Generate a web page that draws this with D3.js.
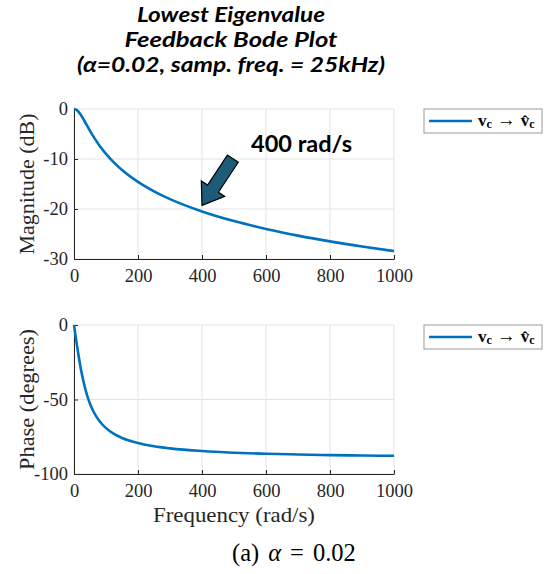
<!DOCTYPE html>
<html>
<head>
<meta charset="utf-8">
<script src="https://cdn.jsdelivr.net/npm/d3@7"></script>
<style>
  html, body { margin: 0; padding: 0; background: #fff; }
  svg { display: block; }
</style>
</head>
<body>
<svg id="chart" width="550" height="574"></svg>
<script>
// Frequency response of the lowest-eigenvalue feedback loop (rad/s)
const freq      = [0, 5, 10, 15, 20, 25, 30, 40, 50, 60, 70, 80, 100, 125, 150, 200, 250, 300, 400, 500, 600, 700, 800, 900, 1000];
const magnitude = [0, -0.07, -0.29, -0.63, -1.06, -1.55, -2.10, -3.24, -4.36, -5.43, -6.43, -7.35, -8.99, -10.73, -12.20, -14.58, -16.46, -18.02, -20.48, -22.41, -23.98, -25.32, -26.48, -27.50, -28.41];
const phase     = [0, -7.5, -14.7, -21.5, -27.8, -33.3, -38.3, -46.5, -52.8, -57.7, -61.5, -64.6, -69.2, -73.1, -75.8, -79.2, -81.4, -82.8, -84.6, -85.7, -86.4, -86.9, -87.3, -87.6, -87.8];

const xTicks     = [0, 200, 400, 600, 800, 1000];
const magTicks   = [0, -10, -20, -30];
const phaseTicks = [0, -50, -100];

const titleLines = ["Lowest Eigenvalue", "Feedback Bode Plot", "(\u03B1=0.02, samp. freq. = 25kHz)"];
const annotation = { freq: 400, text: "400 rad/s" };

const svg = d3.select("#chart");
const serif = "'Liberation Serif', 'Times New Roman', serif";
const sans = "Lato, 'Open Sans', sans-serif";
const lineColor = "#0072BD";
const axisColor = "#262626";
const gridColor = "#e3e3e3";

const plotLeft = 74, plotRight = 394;
const x = d3.scaleLinear().domain([0, 1000]).range([plotLeft, plotRight]);

// Title
const titleG = svg.append("g");
const titleWidths = [188, 213, 308];
titleLines.forEach((t, i) => {
  titleG.append("text")
    .attr("x", 231).attr("y", 22 + i * 25)
    .attr("text-anchor", "middle")
    .attr("font-family", sans)
    .attr("font-weight", "bold").attr("font-style", "italic")
    .attr("font-size", 20)
    .attr("textLength", titleWidths[i])
    .attr("lengthAdjust", "spacingAndGlyphs")
    .text(t);
});

function panel(cfg) {
  const y = d3.scaleLinear().domain(cfg.domain).range([cfg.bottom, cfg.top]);
  const g = svg.append("g");

  // grid
  g.append("g").selectAll("line").data(xTicks).join("line")
    .attr("x1", d => x(d)).attr("x2", d => x(d))
    .attr("y1", cfg.top).attr("y2", cfg.bottom)
    .attr("stroke", gridColor).attr("stroke-width", 1);
  g.append("g").selectAll("line").data(cfg.ticks).join("line")
    .attr("x1", plotLeft).attr("x2", plotRight)
    .attr("y1", d => y(d)).attr("y2", d => y(d))
    .attr("stroke", gridColor).attr("stroke-width", 1);

  // axes
  const xAxis = d3.axisBottom(x).tickValues(xTicks).tickSizeInner(-4).tickSizeOuter(0).tickPadding(10);
  const gx = g.append("g").attr("transform", `translate(0,${cfg.bottom})`).call(xAxis);
  const yAxis = d3.axisLeft(y).tickValues(cfg.ticks).tickSizeInner(-4).tickSizeOuter(0).tickPadding(6);
  const gy = g.append("g").attr("transform", `translate(${plotLeft},0)`).call(yAxis);
  [gx, gy].forEach(a => {
    a.select(".domain").attr("stroke", axisColor).attr("stroke-width", 1);
    a.selectAll(".tick line").attr("stroke", axisColor);
    a.selectAll(".tick text").attr("fill", "#262626").attr("font-size", 18.5).attr("font-family", serif);
  });
  gx.selectAll(".tick text").attr("dy", "0.71em").text(d => String(d));
  gy.selectAll(".tick text").text(d => String(d));

  // y label
  g.append("text")
    .attr("transform", `translate(34,${(cfg.top + cfg.bottom) / 2}) rotate(-90)`)
    .attr("text-anchor", "middle")
    .attr("font-family", serif).attr("font-size", 21).attr("fill", "#262626")
    .attr("textLength", 141).attr("lengthAdjust", "spacingAndGlyphs")
    .text(cfg.label);

  // curve
  const line = d3.line().x((d, i) => x(freq[i])).y(d => y(d)).curve(d3.curveMonotoneX);
  g.append("path").datum(cfg.values)
    .attr("d", line).attr("fill", "none")
    .attr("stroke", lineColor).attr("stroke-width", 2.6)
    .attr("stroke-linejoin", "round");

  // legend
  const lg = g.append("g").attr("transform", `translate(424,${cfg.legendY})`);
  lg.append("rect").attr("width", 118).attr("height", 24)
    .attr("fill", "#fff").attr("stroke", "#999").attr("stroke-width", 1);
  lg.append("line").attr("x1", 5).attr("x2", 48).attr("y1", 12).attr("y2", 12)
    .attr("stroke", lineColor).attr("stroke-width", 2.6);
  const lt = lg.append("text").attr("x", 54).attr("y", 17)
    .attr("font-family", serif).attr("font-size", 17).attr("fill", "#000");
  lt.append("tspan").attr("font-weight", "bold").text("v");
  lt.append("tspan").attr("font-weight", "bold").attr("font-size", 12).attr("dy", 2).text("c");
  lt.append("tspan").attr("dy", -2).attr("dx", 5).attr("font-size", 19).text("\u2192");
  lt.append("tspan").attr("dx", 5).attr("font-weight", "bold").text("v\u0302");
  lt.append("tspan").attr("font-weight", "bold").attr("font-size", 12).attr("dy", 2).text("c");

  return { y, g };
}

const magPanel = panel({ domain: [-30, 0], top: 109, bottom: 259, ticks: magTicks, values: magnitude,
                         label: "Magnitude (dB)", legendY: 109 });
panel({ domain: [-100, 0], top: 325, bottom: 474, ticks: phaseTicks, values: phase,
        label: "Phase (degrees)", legendY: 325 });

// x label
svg.append("text").attr("x", 234).attr("y", 522)
  .attr("text-anchor", "middle")
  .attr("font-family", serif).attr("font-size", 21).attr("fill", "#262626")
  .attr("textLength", 162).attr("lengthAdjust", "spacingAndGlyphs")
  .text("Frequency (rad/s)");

// caption
const cap = svg.append("text").attr("x", 232).attr("y", 561)
  .attr("font-family", serif).attr("font-size", 24.5).attr("fill", "#000");
cap.append("tspan").text("(a)");
cap.append("tspan").attr("font-style", "italic").attr("dx", 9).text("\u03B1");
cap.append("tspan").attr("dx", 9).text("=");
cap.append("tspan").attr("dx", 9).text("0.02");

// annotation arrow pointing at the curve at 400 rad/s
const tipMag = magnitude[freq.indexOf(annotation.freq)];
const tipX = x(annotation.freq), tipY = magPanel.y(tipMag) - 6;
const ang = Math.atan2(-47, 31); // direction from tip back toward the tail
const L = 56, headL = 20, headW = 14, shaftW = 6.5;
const ux = Math.cos(ang), uy = Math.sin(ang), px = -uy, py = ux;
const pt = (a, b) => [tipX + ux * a + px * b, tipY + uy * a + py * b];
const arrowPts = [pt(0, 0), pt(headL, headW), pt(headL, shaftW), pt(L, shaftW), pt(L, -shaftW), pt(headL, -shaftW), pt(headL, -headW)];
svg.append("polygon")
  .attr("points", arrowPts.map(p => p.join(",")).join(" "))
  .attr("fill", "#1d5b79").attr("stroke", "#000").attr("stroke-width", 1.2)
  .attr("stroke-linejoin", "miter");

svg.append("text").attr("x", 251).attr("y", 152)
  .attr("font-family", sans).attr("font-weight", "bold")
  .attr("font-size", 22).attr("textLength", 101).attr("lengthAdjust", "spacingAndGlyphs")
  .text(annotation.text);
</script>
</body>
</html>
